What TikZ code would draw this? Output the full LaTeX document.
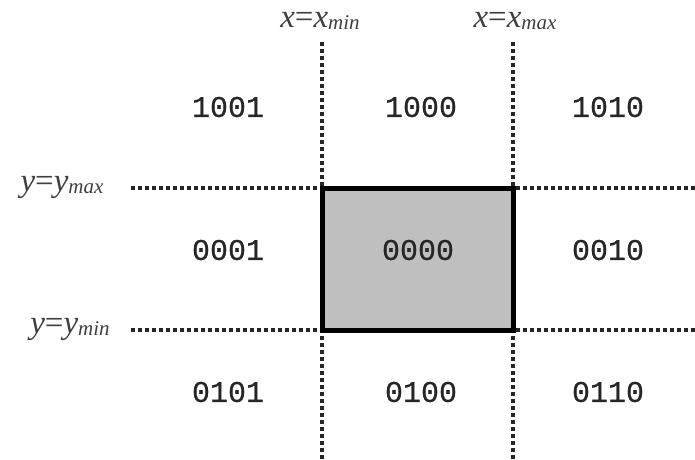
\documentclass[tikz,border=0pt]{standalone}
\usepackage{fontspec}
\setmainfont{Liberation Serif}
\newfontfamily\codefont[FakeBold=0.7]{Liberation Mono}
\begin{document}
\begin{tikzpicture}[x=1pt,y=-1pt,
  code/.style={font=\codefont\fontsize{30}{30}\selectfont, text=black!85},
  lab/.style={font=\fontsize{33}{33}\selectfont, text=black!75, inner sep=0pt},
  dotline/.style={line width=3.5pt, dash pattern=on 3.5pt off 3.5pt, black!85},
  clipwin/.style={line width=5pt, fill=black!25}]
\useasboundingbox (0,0) rectangle (695,459);
% clip window corners
\coordinate (tl) at (322,188);
\coordinate (br) at (513,330);
% dotted extension lines
\coordinate (vminT) at (322,42);
\coordinate (vminB) at (322,459);
\coordinate (vmaxT) at (513,42);
\coordinate (vmaxB) at (513,459);
\coordinate (hmaxL) at (131,188);
\coordinate (hmaxR) at (695,188);
\coordinate (hminL) at (131,330);
\coordinate (hminR) at (695,330);
\draw[dotline] (vminT) -- (vminB);
\draw[dotline] (vmaxT) -- (vmaxB);
\draw[dotline] (hmaxL) -- (hmaxR);
\draw[dotline] (hminL) -- (hminR);
\draw[clipwin] (tl) rectangle (br);
% labels
\node[lab] (lxmin) at (320,21) {\textit{x}=\textit{x}\raisebox{-0.15ex}{\fontsize{21}{21}\selectfont\textit{min}}};
\node[lab] (lxmax) at (515,21) {\textit{x}=\textit{x}\raisebox{-0.15ex}{\fontsize{21}{21}\selectfont\textit{max}}};
\node[lab] (lymax) at (62,187) {\textit{y}=\textit{y}\raisebox{-0.15ex}{\fontsize{21}{21}\selectfont\textit{max}}};
\node[lab] (lymin) at (70,329) {\textit{y}=\textit{y}\raisebox{-0.15ex}{\fontsize{21}{21}\selectfont\textit{min}}};
% region codes
\node[code] (c1001) at (228,107) {1001};
\node[code] (c1000) at (421,107) {1000};
\node[code] (c1010) at (608,107) {1010};
\node[code] (c0001) at (228,250) {0001};
\node[code] (c0000) at (418,250) {0000};
\node[code] (c0010) at (608,250) {0010};
\node[code] (c0101) at (228,392) {0101};
\node[code] (c0100) at (421,392) {0100};
\node[code] (c0110) at (608,392) {0110};
\end{tikzpicture}
\end{document}
